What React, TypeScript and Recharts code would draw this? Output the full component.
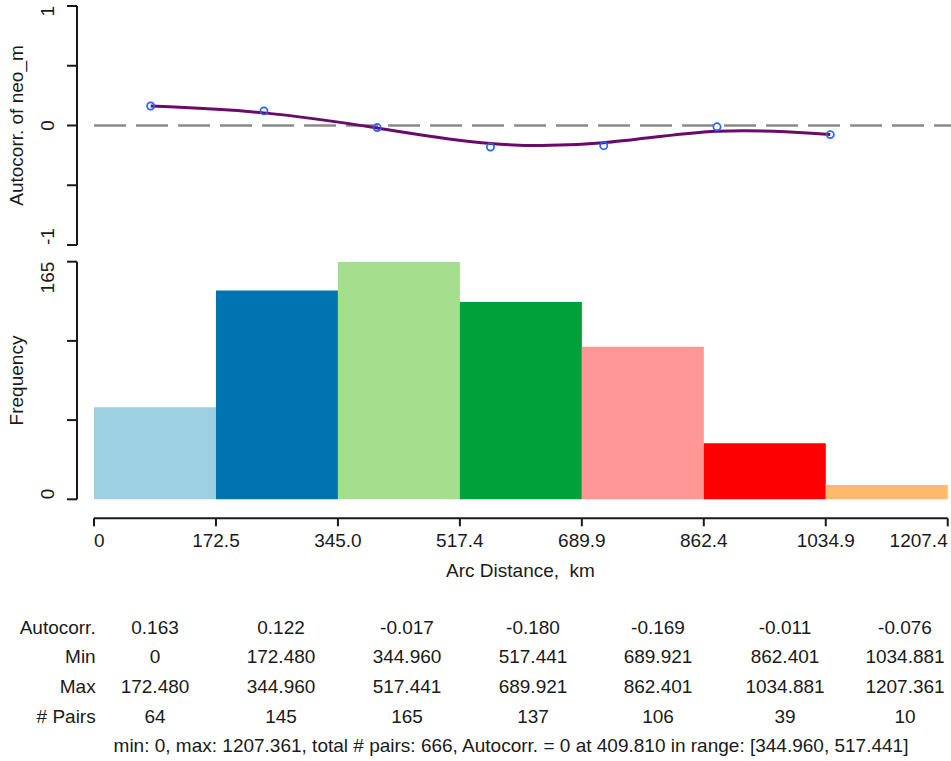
import React from 'react';
import {
  ComposedChart,
  Line,
  Scatter,
  Bar,
  Cell,
  XAxis,
  YAxis,
  ReferenceLine,
} from 'recharts';

// Distance classes (km) with their correlogram statistics
const binMin = [0, 172.48, 344.96, 517.441, 689.921, 862.401, 1034.881];
const binMax = [172.48, 344.96, 517.441, 689.921, 862.401, 1034.881, 1207.361];
const autocorr = [0.163, 0.122, -0.017, -0.18, -0.169, -0.011, -0.076];
const pairs = [64, 145, 165, 137, 106, 39, 10];
const binColors = ['#9dd0e3', '#0073b1', '#a3df8c', '#00a03b', '#ff9797', '#fd0000', '#ffb96b'];

const xTickValues = [0, 172.48, 344.96, 517.441, 689.921, 862.401, 1034.881, 1207.361];
const xTickLabels = ['0', '172.5', '345.0', '517.4', '689.9', '862.4', '1034.9', '1207.4'];
const acTicks = [-1, -0.5, 0, 0.5, 1];
const freqTicks = [0, 55, 110, 165];
const rowLabels = ['Autocorr.', 'Min', 'Max', '# Pairs'];
const zeroCrossing = 409.81;
const zeroRange = [344.96, 517.441];

const classes = binMin.map((lo, i) => ({
  mid: (lo + binMax[i]) / 2,
  autocorr: autocorr[i],
  pairs: pairs[i],
}));

const FONT = '"Liberation Sans", Arial, Helvetica, sans-serif';
const INK = '#1a1a1a';
const W = 951;

// top panel geometry
const TOP_H = 250;
const TOP_X_DOMAIN: [number, number] = [-26, 1305];
// bottom panel geometry
const BOT_TOP = 250;
const BOT_H = 350;
const BOT_X_DOMAIN: [number, number] = [-24.04, 1212.0];
const BOT_Y_DOMAIN: [number, number] = [-13.2, 165];
const PLOT_LEFT = 77;

const fmt3 = (v: number) => (v === 0 ? '0' : v.toFixed(3));
const totalPairs = pairs.reduce((a, b) => a + b, 0);

const makeYTick = (labelled: number[]) => (props: any) => {
  const { x, y, payload } = props;
  const v = payload.value;
  if (!labelled.includes(v)) return <g />;
  const lo = labelled[0];
  const hi = labelled[labelled.length - 1];
  const anchor = v === hi ? 'end' : v === lo ? 'start' : 'middle';
  return (
    <text
      x={x}
      y={y}
      transform={`rotate(-90 ${x} ${y})`}
      textAnchor={anchor}
      fontSize={19}
      fontFamily={FONT}
      fill={INK}
    >
      {String(v)}
    </text>
  );
};

const XTick = (props: any) => {
  const { x, y, payload } = props;
  const i = xTickValues.indexOf(payload.value);
  const last = xTickValues.length - 1;
  const anchor = i === 0 ? 'start' : i === last ? 'end' : 'middle';
  return (
    <text x={x} y={y} dy={20.7} textAnchor={anchor} fontSize={19} fontFamily={FONT} fill={INK}>
      {xTickLabels[i]}
    </text>
  );
};

const Circle = (props: any) => (
  <circle cx={props.cx} cy={props.cy} r={3.6} fill="none" stroke="#2563ff" strokeWidth={1.7} />
);

const axisStroke = { stroke: INK, strokeWidth: 2 };

const colCenters = [155, 281, 407, 533, 658, 785, 905];
const rowBaselines = [33.5, 63, 93, 122.5];

export default function App() {
  const rows = [
    autocorr.map((v) => v.toFixed(3)),
    binMin.map(fmt3),
    binMax.map(fmt3),
    pairs.map((v) => String(v)),
  ];
  const footer =
    `min: ${fmt3(binMin[0])}, max: ${binMax[binMax.length - 1].toFixed(3)}, ` +
    `total # pairs: ${totalPairs}, Autocorr. = 0 at ${zeroCrossing.toFixed(3)} ` +
    `in range: [${zeroRange[0].toFixed(3)}, ${zeroRange[1].toFixed(3)}]`;

  return (
    <div
      style={{
        position: 'absolute',
        left: 0,
        top: 0,
        width: W,
        height: 761,
        background: '#ffffff',
        fontFamily: FONT,
        overflow: 'hidden',
      }}
    >
      {/* correlogram */}
      <div style={{ position: 'absolute', left: 0, top: 0 }}>
        <ComposedChart
          width={W}
          height={TOP_H}
          data={classes}
          margin={{ top: 6, right: 0, bottom: 5, left: 0 }}
        >
          <XAxis type="number" dataKey="mid" domain={TOP_X_DOMAIN} allowDataOverflow hide />
          <YAxis
            type="number"
            domain={[-1, 1]}
            ticks={acTicks}
            interval={0}
            width={PLOT_LEFT}
            axisLine={axisStroke}
            tickLine={axisStroke}
            tickSize={10}
            tickMargin={13}
            tick={makeYTick([-1, 0, 1])}
          />
          <ReferenceLine
            segment={[
              { x: 0, y: 0 },
              { x: TOP_X_DOMAIN[1], y: 0 },
            ]}
            stroke="#8a8a8a"
            strokeWidth={2.5}
            strokeDasharray="32 10"
          />
          <Scatter dataKey="autocorr" shape={<Circle />} isAnimationActive={false} />
          <Line
            type="basis"
            dataKey="autocorr"
            stroke="#6a0a6a"
            strokeWidth={3}
            dot={false}
            activeDot={false}
            isAnimationActive={false}
          />
          <text
            x={22.5}
            y={125.5}
            transform="rotate(-90 22.5 125.5)"
            textAnchor="middle"
            fontSize={19}
            fontFamily={FONT}
            fill={INK}
          >
            Autocorr. of neo_m
          </text>
        </ComposedChart>
      </div>

      {/* pair-count histogram */}
      <div style={{ position: 'absolute', left: 0, top: BOT_TOP }}>
        <ComposedChart
          width={W}
          height={BOT_H}
          data={classes}
          margin={{ top: 11.7, right: 0, bottom: 0, left: 0 }}
          barCategoryGap={0}
          barGap={0}
        >
          <XAxis
            type="number"
            dataKey="mid"
            domain={BOT_X_DOMAIN}
            allowDataOverflow
            ticks={xTickValues}
            interval={0}
            height={81.7}
            axisLine={false}
            tickLine={axisStroke}
            tickSize={8}
            tickMargin={0}
            tick={<XTick />}
          />
          <YAxis
            type="number"
            domain={BOT_Y_DOMAIN}
            allowDataOverflow
            ticks={freqTicks}
            interval={0}
            width={PLOT_LEFT}
            axisLine={false}
            tickLine={axisStroke}
            tickSize={10}
            tickMargin={13}
            tick={makeYTick([0, 165])}
          />
          <Bar dataKey="pairs" isAnimationActive={false}>
            {classes.map((_, i) => (
              <Cell key={i} fill={binColors[i]} />
            ))}
          </Bar>
          <ReferenceLine
            segment={[
              { x: BOT_X_DOMAIN[0], y: 0 },
              { x: BOT_X_DOMAIN[0], y: 165 },
            ]}
            stroke={INK}
            strokeWidth={2}
          />
          <ReferenceLine
            segment={[
              { x: xTickValues[0], y: BOT_Y_DOMAIN[0] },
              { x: xTickValues[xTickValues.length - 1], y: BOT_Y_DOMAIN[0] },
            ]}
            stroke={INK}
            strokeWidth={2}
          />
          <text
            x={22.5}
            y={130.5}
            transform="rotate(-90 22.5 130.5)"
            textAnchor="middle"
            fontSize={19}
            fontFamily={FONT}
            fill={INK}
          >
            Frequency
          </text>
          <text x={520.5} y={327} textAnchor="middle" fontSize={19} fontFamily={FONT} fill={INK}>
            {'Arc Distance,\u00a0 km'}
          </text>
        </ComposedChart>
      </div>

      {/* per-class summary table */}
      <svg
        width={W}
        height={161}
        style={{ position: 'absolute', left: 0, top: 600 }}
        fontFamily={FONT}
        fontSize={19}
        fill={INK}
      >
        {rowLabels.map((lab, r) => (
          <g key={lab}>
            <text x={95.7} y={rowBaselines[r]} textAnchor="end">
              {lab}
            </text>
            {rows[r].map((cell, c) => (
              <text key={c} x={colCenters[c]} y={rowBaselines[r]} textAnchor="middle">
                {cell}
              </text>
            ))}
          </g>
        ))}
        <text x={511} y={152} textAnchor="middle">
          {footer}
        </text>
      </svg>
    </div>
  );
}
